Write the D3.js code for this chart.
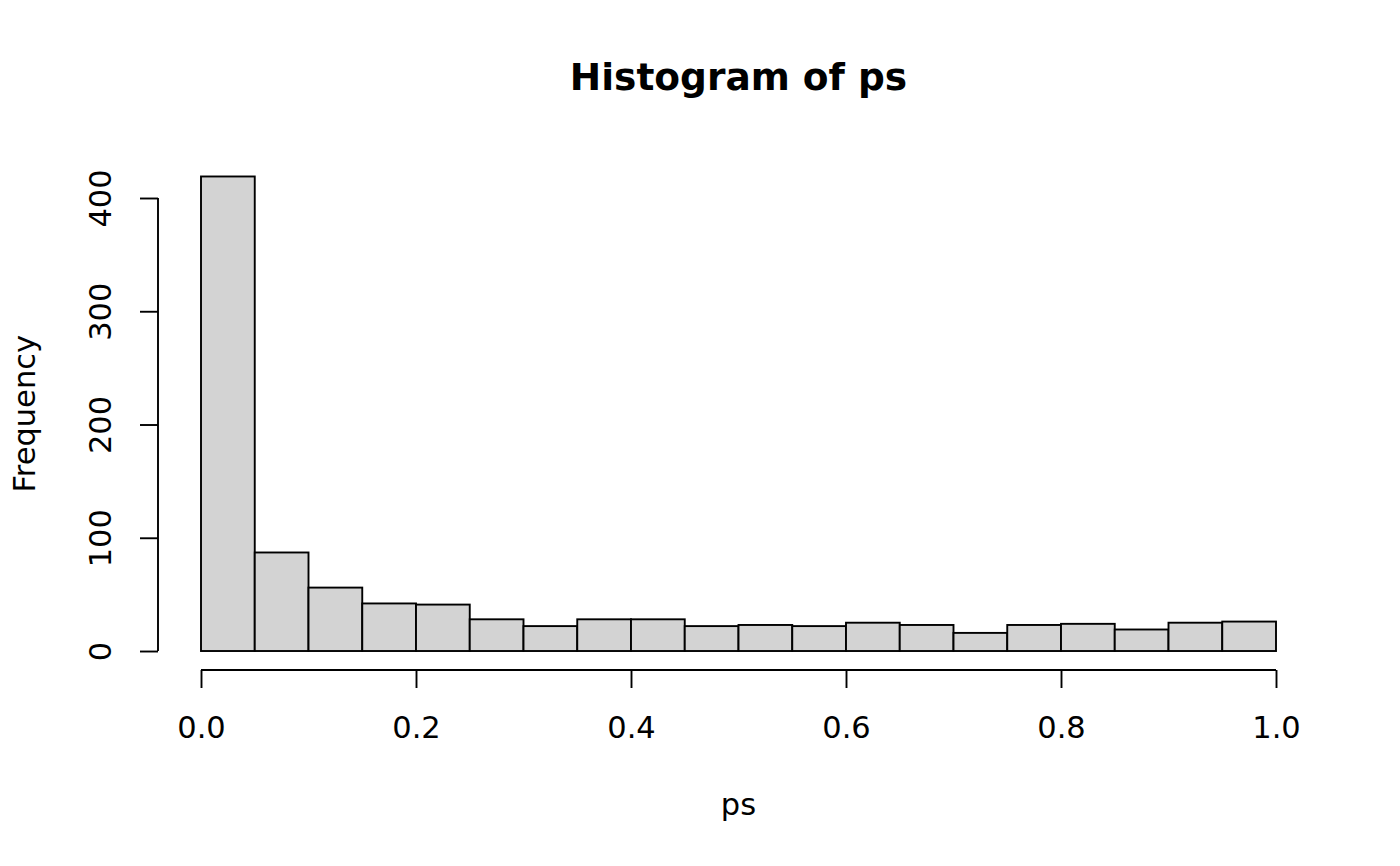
<!DOCTYPE html>
<html lang="en">
<head>
    <meta charset="UTF-8">
    <title>Histogram of ps</title>
    <style>
        html, body { margin: 0; padding: 0; background: #fff; }
        svg { display: block; font-family: "DejaVu Sans", sans-serif; }
    </style>
</head>
<body>
    <svg width="1400" height="866" viewBox="0 0 1400 866"></svg>
    <script src="https://cdn.jsdelivr.net/npm/d3@7"></script>
    <script>
        // bin edges (breaks) and counts
        const breaks = [0, 0.05, 0.1, 0.15, 0.2, 0.25, 0.3, 0.35, 0.4, 0.45, 0.5,
            0.55, 0.6, 0.65, 0.7, 0.75, 0.8, 0.85, 0.9, 0.95, 1.0];
        const counts = [419, 87, 56, 42, 41, 28, 22, 28, 28, 22,
            23, 22, 25, 23, 16, 23, 24, 19, 25, 26];
        const xTicks = [0, 0.2, 0.4, 0.6, 0.8, 1.0];
        const yTicks = [0, 100, 200, 300, 400];

        var svg = d3.select('svg');

        // plot region like R: 4% extension on both axes
        var plotLeft = 158, plotRight = 1319, plotTop = 157.5, plotBottom = 670;
        var xmax = d3.max(breaks), ymax = d3.max(counts);

        var x = d3.scaleLinear()
            .domain([-0.04 * xmax, xmax * 1.04])
            .range([plotLeft, plotRight]);
        var y = d3.scaleLinear()
            .domain([-0.04 * ymax, ymax * 1.04])
            .range([plotBottom, plotTop]);

        var bins = counts.map(function (c, i) {
            return { x0: breaks[i], x1: breaks[i + 1], n: c };
        });

        // bars
        svg.append('g').selectAll('rect').data(bins).enter().append('rect')
            .attr('x', function (d) { return x(d.x0); })
            .attr('y', function (d) { return y(d.n); })
            .attr('width', function (d) { return x(d.x1) - x(d.x0); })
            .attr('height', function (d) { return y(0) - y(d.n); })
            .attr('fill', '#d3d3d3')
            .attr('stroke', '#000')
            .attr('stroke-width', 1.9);

        // x axis (R style: line only between first and last tick)
        var gx = svg.append('g')
            .attr('transform', 'translate(0,' + plotBottom + ')')
            .call(d3.axisBottom(x).tickValues(xTicks).tickSize(18).tickSizeOuter(0)
                .tickFormat(d3.format('.1f')));
        gx.select('.domain').remove();
        gx.append('line')
            .attr('x1', x(xTicks[0])).attr('x2', x(xTicks[xTicks.length - 1]))
            .attr('stroke', '#000').attr('stroke-width', 1.9);
        gx.selectAll('.tick line').attr('stroke-width', 1.9);
        gx.selectAll('.tick text')
            .attr('y', 68).attr('dy', null)
            .attr('fill', '#000')
            .style('font-size', '30.5px')
            .style('font-family', '"DejaVu Sans", sans-serif');

        // y axis
        var gy = svg.append('g')
            .attr('transform', 'translate(' + plotLeft + ',0)')
            .call(d3.axisLeft(y).tickValues(yTicks).tickSize(18).tickSizeOuter(0));
        gy.select('.domain').remove();
        gy.append('line')
            .attr('y1', y(yTicks[0])).attr('y2', y(yTicks[yTicks.length - 1]))
            .attr('stroke', '#000').attr('stroke-width', 1.9);
        gy.selectAll('.tick line').attr('stroke-width', 1.9);
        gy.selectAll('.tick text')
            .attr('x', null).attr('dy', null)
            .attr('transform', 'translate(-47,0) rotate(-90)')
            .attr('text-anchor', 'middle')
            .attr('fill', '#000')
            .style('font-size', '30.5px')
            .style('font-family', '"DejaVu Sans", sans-serif');

        // titles
        svg.append('text')
            .attr('x', (plotLeft + plotRight) / 2).attr('y', 90)
            .attr('text-anchor', 'middle')
            .style('font-size', '37.5px').style('font-weight', 'bold')
            .text('Histogram of ps');

        svg.append('text')
            .attr('x', (plotLeft + plotRight) / 2).attr('y', 815)
            .attr('text-anchor', 'middle')
            .style('font-size', '30.5px')
            .text('ps');

        svg.append('text')
            .attr('transform', 'translate(35,' + (plotTop + plotBottom) / 2 + ') rotate(-90)')
            .attr('text-anchor', 'middle')
            .style('font-size', '30.5px')
            .text('Frequency');
    </script>
</body>
</html>
